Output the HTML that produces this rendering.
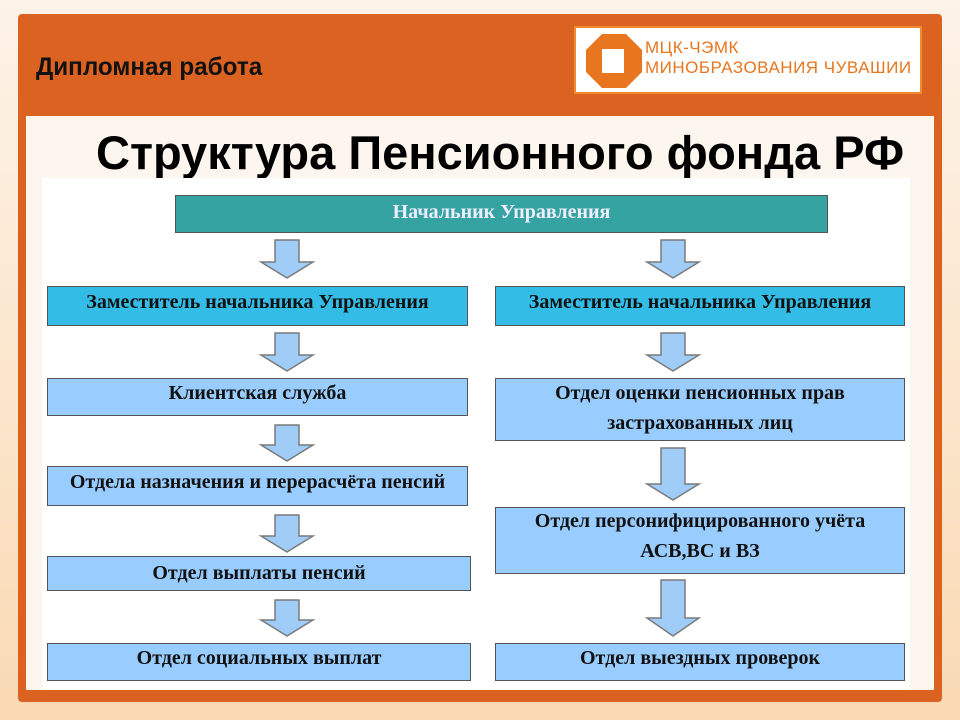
<!DOCTYPE html>
<html><head><meta charset="utf-8"><style>
body{margin:0;width:960px;height:720px;overflow:hidden;background:linear-gradient(#fdf3e8,#f9d9b3);font-family:"Liberation Sans",sans-serif;position:relative}
.a{position:absolute}
.box{position:absolute;border:1px solid #555;background:#99ccff;font-family:"Liberation Serif",serif;font-weight:bold;font-size:20px;color:#111;text-align:center;box-sizing:border-box;display:flex;align-items:center;justify-content:center;padding-bottom:8px;line-height:28px}
.cy{background:#33bce6}
</style></head><body>
<div class="a" style="left:18px;top:14px;width:924px;height:688px;background:#dc6222;border-radius:4px"></div>
<div class="a" style="left:26px;top:116px;width:908px;height:574px;background:#fdf6ee"></div>
<div class="a" style="left:36px;top:53px;font-size:25px;font-weight:bold;color:#111;transform:scaleX(0.97);transform-origin:left">Дипломная работа</div>
<div class="a" style="left:574px;top:26px;width:348px;height:68px;background:#fff;border:2px solid #f08a2a;box-sizing:border-box"></div>
<svg class="a" style="left:586px;top:34px" width="56" height="54" viewBox="0 0 56 54"><polygon points="16,0 40,0 56,16 56,38 40,54 16,54 0,38 0,16" fill="#e8761f"/><rect x="16" y="15" width="22" height="24" fill="#fff"/></svg>
<div class="a" style="left:645px;top:38px;font-size:17px;color:#e8761f;line-height:20px;letter-spacing:0.5px">МЦК-ЧЭМК<br>МИНОБРАЗОВАНИЯ ЧУВАШИИ</div>
<div class="a" style="left:96px;top:125px;font-size:47px;font-weight:bold;color:#000">Структура Пенсионного фонда РФ</div>
<div class="a" style="left:42px;top:178px;width:868px;height:512px;background:#fff"></div>
<div class="box" style="left:175px;top:195px;width:653px;height:38px;background:#36a3a3;color:#eef;padding-bottom:4px">Начальник Управления</div>
<div class="box cy" style="left:47px;top:286px;width:421px;height:40px">Заместитель начальника Управления</div>
<div class="box" style="left:47px;top:378px;width:421px;height:38px">Клиентская служба</div>
<div class="box" style="left:47px;top:466px;width:421px;height:40px">Отдела назначения и перерасчёта пенсий</div>
<div class="box" style="left:47px;top:556px;width:424px;height:35px;padding-bottom:2px">Отдел выплаты пенсий</div>
<div class="box" style="left:47px;top:643px;width:424px;height:38px">Отдел социальных выплат</div>
<div class="box cy" style="left:495px;top:286px;width:410px;height:40px">Заместитель начальника Управления</div>
<div class="box" style="left:495px;top:378px;width:410px;height:63px;padding-bottom:4px;line-height:30px">Отдел оценки пенсионных прав<br>застрахованных лиц</div>
<div class="box" style="left:495px;top:507px;width:410px;height:67px;padding-bottom:10px;line-height:30px">Отдел персонифицированного учёта<br>АСВ,ВС и ВЗ</div>
<div class="box" style="left:495px;top:643px;width:410px;height:38px">Отдел выездных проверок</div>
<svg class="a" style="left:0;top:0" width="960" height="720">
<g fill="#9fcdf7" stroke="#7a7a7a" stroke-width="1.5">
<polygon points="275,240 299,240 299,262 313,262 287,278 261,262 275,262"/>
<polygon points="275,333 299,333 299,355 313,355 287,371 261,355 275,355"/>
<polygon points="275,425 299,425 299,445 313,445 287,461 261,445 275,445"/>
<polygon points="275,515 299,515 299,536 313,536 287,552 261,536 275,536"/>
<polygon points="275,600 299,600 299,620 313,620 287,636 261,620 275,620"/>
<polygon points="661,240 685,240 685,262 699,262 673,278 647,262 661,262"/>
<polygon points="661,333 685,333 685,355 699,355 673,371 647,355 661,355"/>
<polygon points="661,448 685,448 685,484 699,484 673,500 647,484 661,484"/>
<polygon points="661,580 685,580 685,618 699,618 673,636 647,618 661,618"/>
</g></svg>
</body></html>
